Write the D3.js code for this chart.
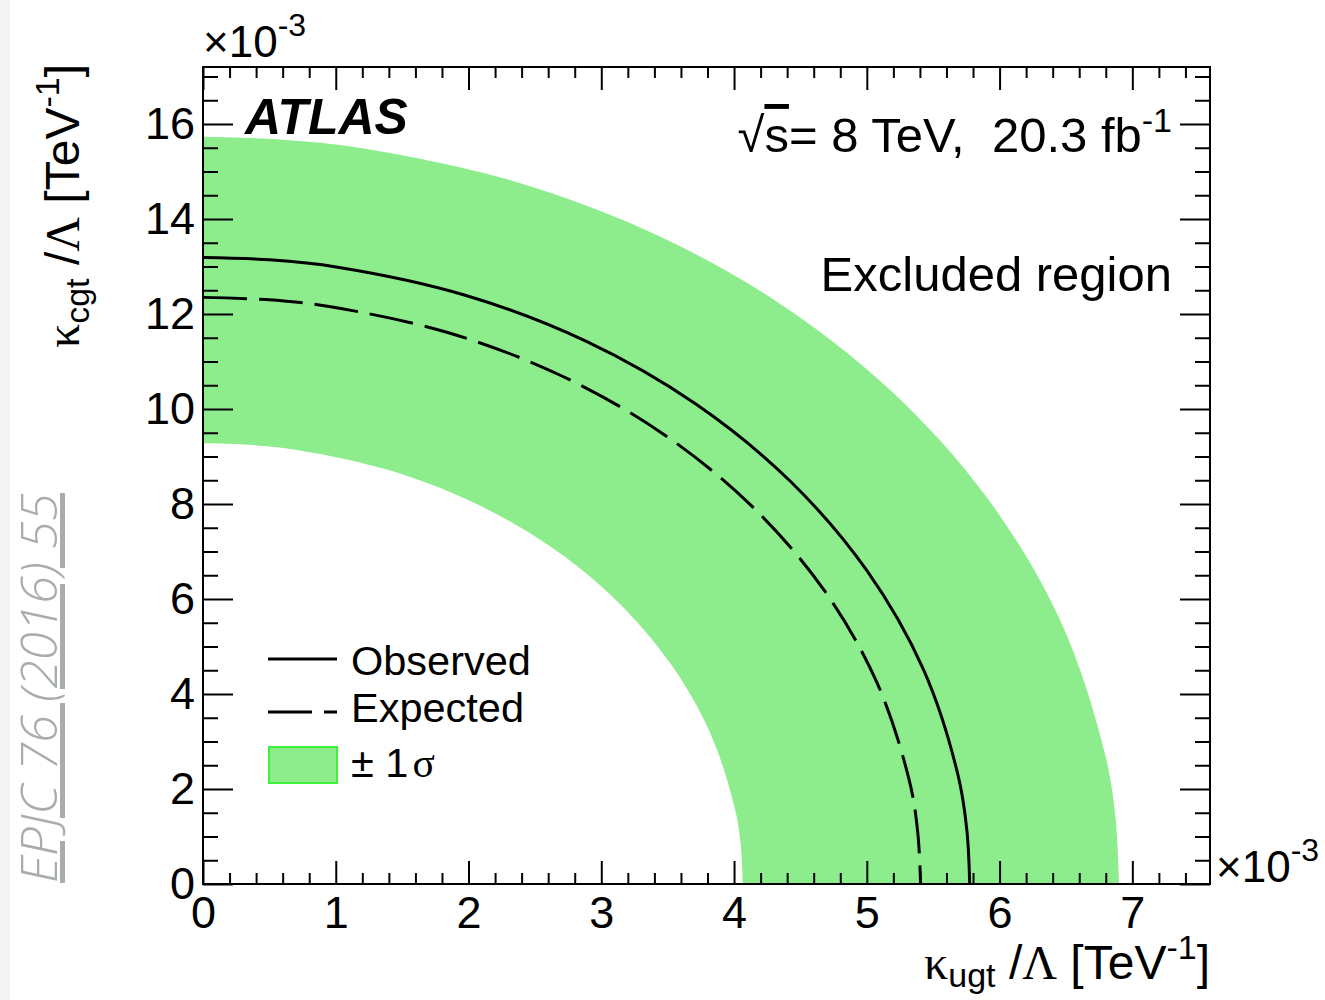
<!DOCTYPE html>
<html>
<head>
<meta charset="utf-8">
<script src="https://cdn.jsdelivr.net/npm/d3@7"></script>
<style>
  body { margin: 0; background: #fff; }
  svg { display: block; }
  text { font-family: "Liberation Sans", Arial, Helvetica, sans-serif; fill: #000; white-space: pre; }
</style>
</head>
<body>
<svg id="chart" width="1325" height="1000"></svg>
<script>
// contour points (units of 1e-3 TeV^-1)
const observedX = [0, 0.503, 1.003, 1.975, 2.888, 3.712, 4.424, 5.001, 5.427, 5.687, 5.753, 5.775];
const observedY = [13.19, 13.14, 12.99, 12.395, 11.423, 10.104, 8.478, 6.595, 4.511, 2.29, 1.15, 0];
const expectedX = [0, 0.471, 0.938, 1.849, 2.703, 3.474, 4.14, 4.681, 5.079, 5.323, 5.384, 5.405];
const expectedY = [12.35, 12.303, 12.162, 11.605, 10.695, 9.46, 7.938, 6.175, 4.224, 2.144, 1.077, 0];
const bandOuterX = [0, 0.602, 1.198, 2.36, 3.45, 4.435, 5.285, 5.975, 6.484, 6.795, 6.874, 6.9];
const bandOuterY = [15.73, 15.67, 15.491, 14.781, 13.622, 12.049, 10.111, 7.865, 5.38, 2.731, 1.372, 0];
const bandInnerX = [0, 0.355, 0.706, 1.391, 2.033, 2.614, 3.115, 3.521, 3.821, 4.004, 4.051, 4.066];
const bandInnerY = [9.28, 9.245, 9.139, 8.72, 8.036, 7.108, 5.965, 4.64, 3.174, 1.611, 0.809, 0];

const xTickLabels = ['0', '1', '2', '3', '4', '5', '6', '7'];
const yTickLabels = ['0', '2', '4', '6', '8', '10', '12', '14', '16'];
const legendLabels = ['Observed', 'Expected', '\u00b1 1'];

const svg = d3.select('#chart');
const plotLeft = 203, plotRight = 1210, plotTop = 67, plotBottom = 884;
const bandColor = '#8ded8d';

const x = d3.scaleLinear().domain([0, 7.585]).range([plotLeft, plotRight]);
const y = d3.scaleLinear().domain([0, 17.2]).range([plotBottom, plotTop]);

// left page strip and journal reference
svg.append('rect').attr('x', 0).attr('y', 0).attr('width', 10).attr('height', 1000).attr('fill', '#f3f4f5');
svg.append('text')
    .attr('transform', 'translate(57,883) rotate(-90)')
    .attr('textLength', 390)
    .attr('lengthAdjust', 'spacingAndGlyphs')
    .style('font-family', '"Open Sans", "DejaVu Sans", sans-serif')
    .style('font-style', 'italic')
    .style('font-weight', 300)
    .style('font-size', '50px')
    .style('fill', '#a9acac')
    .style('text-decoration', 'underline')
    .text('EPJC 76 (2016) 55');

const toPts = (xs, ys) => xs.map((v, i) => [v, ys[i]]);
const line = d3.line().x((d) => x(d[0])).y((d) => y(d[1])).curve(d3.curveCatmullRom);

// +-1 sigma band
const outer = line(toPts(bandOuterX, bandOuterY));
const inner = line(toPts(bandInnerX, bandInnerY).reverse()).replace(/^M/, 'L');
svg.append('path').attr('d', outer + inner + 'Z').attr('fill', bandColor);

// limit contours
svg.append('path').attr('d', line(toPts(expectedX, expectedY)))
    .attr('fill', 'none').attr('stroke', '#000').attr('stroke-width', 3)
    .attr('stroke-dasharray', '44 12');
svg.append('path').attr('d', line(toPts(observedX, observedY)))
    .attr('fill', 'none').attr('stroke', '#000').attr('stroke-width', 3);

// axes with ROOT style ticks on all four sides
const xMajor = d3.range(0, 8, 1);
const xMinor = d3.range(0, 7.59, 0.2).filter((v) => Math.abs(v - Math.round(v)) > 1e-6);
const yMajor = d3.range(0, 17, 2);
const yMinor = d3.range(0, 17.2, 0.5).filter((v) => Math.abs(v / 2 - Math.round(v / 2)) > 1e-6);

function addAxis(axis, transform) {
    const g = svg.append('g').attr('transform', transform).call(axis);
    g.select('.domain').remove();
    g.selectAll('line').attr('stroke', '#000').attr('stroke-width', 2);
    g.selectAll('text').style('font-size', '45px').attr('fill', '#000');
    return g;
}

addAxis(d3.axisBottom(x).tickValues(xMinor).tickSize(-11).tickFormat(''), `translate(0,${plotBottom})`);
addAxis(d3.axisBottom(x).tickValues(xMajor).tickSize(-23).tickPadding(12)
    .tickFormat((d, i) => xTickLabels[i]), `translate(0,${plotBottom})`);
addAxis(d3.axisTop(x).tickValues(xMinor).tickSize(-11).tickFormat(''), `translate(0,${plotTop})`);
addAxis(d3.axisTop(x).tickValues(xMajor).tickSize(-23).tickFormat(''), `translate(0,${plotTop})`);

addAxis(d3.axisLeft(y).tickValues(yMinor).tickSize(-15).tickFormat(''), `translate(${plotLeft},0)`);
addAxis(d3.axisLeft(y).tickValues(yMajor).tickSize(-30).tickPadding(8)
    .tickFormat((d, i) => yTickLabels[i]), `translate(${plotLeft},0)`);
addAxis(d3.axisRight(y).tickValues(yMinor).tickSize(-15).tickFormat(''), `translate(${plotRight},0)`);
addAxis(d3.axisRight(y).tickValues(yMajor).tickSize(-30).tickFormat(''), `translate(${plotRight},0)`);

svg.append('rect')
    .attr('x', plotLeft).attr('y', plotTop)
    .attr('width', plotRight - plotLeft).attr('height', plotBottom - plotTop)
    .attr('fill', 'none').attr('stroke', '#000').attr('stroke-width', 2);

// exponent markers
const exp1 = svg.append('text').attr('x', 203).attr('y', 57).style('font-size', '44px');
exp1.append('tspan').text('\u00d710');
exp1.append('tspan').attr('dy', -21).style('font-size', '32px').text('-3');
const exp2 = svg.append('text').attr('x', 1216).attr('y', 882).style('font-size', '44px');
exp2.append('tspan').text('\u00d710');
exp2.append('tspan').attr('dy', -21).style('font-size', '32px').text('-3');

// axis titles
const xt = svg.append('text').attr('x', 1210).attr('y', 979)
    .attr('text-anchor', 'end').style('font-size', '48px');
xt.append('tspan').style('font-family', '"Liberation Serif", serif').text('\u03ba');
xt.append('tspan').attr('dy', 8).style('font-size', '34px').text('ugt');
xt.append('tspan').attr('dy', -8).text(' /');
xt.append('tspan').style('font-family', '"Liberation Serif", serif').text('\u039b');
xt.append('tspan').text(' [TeV');
xt.append('tspan').attr('dy', -20).style('font-size', '34px').text('-1');
xt.append('tspan').attr('dy', 20).text(']');

const yt = svg.append('text').attr('transform', 'translate(79,64) rotate(-90)')
    .attr('text-anchor', 'end').style('font-size', '48px');
yt.append('tspan').style('font-family', '"Liberation Serif", serif').text('\u03ba');
yt.append('tspan').attr('dy', 10).style('font-size', '34px').text('cgt');
yt.append('tspan').attr('dy', -10).text(' /');
yt.append('tspan').style('font-family', '"Liberation Serif", serif').text('\u039b');
yt.append('tspan').text(' [TeV');
yt.append('tspan').attr('dy', -20).style('font-size', '34px').text('-1');
yt.append('tspan').attr('dy', 20).text(']');

// labels inside the frame
svg.append('text').attr('x', 245).attr('y', 134)
    .style('font-size', '50px').style('font-weight', 'bold').style('font-style', 'italic')
    .text('ATLAS');

const lumi = svg.append('text').attr('x', 1172).attr('y', 152)
    .attr('text-anchor', 'end').style('font-size', '49px');
lumi.append('tspan').text('\u221a');
lumi.append('tspan').style('text-decoration', 'overline').text('s');
lumi.append('tspan').text('= 8 TeV,  20.3 fb');
lumi.append('tspan').attr('dy', -20).style('font-size', '34px').text('-1');

svg.append('text').attr('x', 1172).attr('y', 291)
    .attr('text-anchor', 'end').style('font-size', '49px').text('Excluded region');

// legend
const lg = svg.append('g');
lg.append('line').attr('x1', 268).attr('x2', 337).attr('y1', 659).attr('y2', 659)
    .attr('stroke', '#000').attr('stroke-width', 3);
lg.append('line').attr('x1', 268).attr('x2', 337).attr('y1', 712).attr('y2', 712)
    .attr('stroke', '#000').attr('stroke-width', 3).attr('stroke-dasharray', '44 12');
lg.append('rect').attr('x', 269).attr('y', 747).attr('width', 68).attr('height', 36)
    .attr('fill', bandColor).attr('stroke', '#3cf03c').attr('stroke-width', 2);
const ly = [675, 722, 777];
legendLabels.forEach((t, i) => {
    const tx = lg.append('text').attr('x', 351).attr('y', ly[i]).style('font-size', '41.5px').text(t);
    if (i === 2) {
        tx.append('tspan').attr('dx', 4).style('font-family', '"Liberation Serif", serif').text('\u03c3');
    }
});
</script>
</body>
</html>
